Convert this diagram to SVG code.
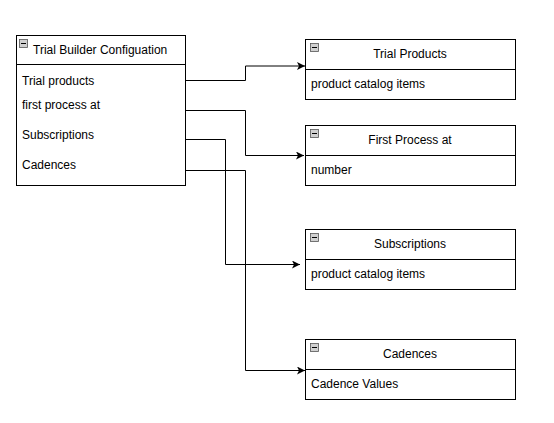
<svg xmlns="http://www.w3.org/2000/svg" width="554" height="423" viewBox="0 0 554 423">
<defs>
<style>
.box{fill:#fff;stroke:#000;stroke-width:1}
.sep{stroke:#000;stroke-width:1}
.t{font-family:"Liberation Sans",Arial,sans-serif;font-size:12px;fill:#000}
.c{text-anchor:middle}
.ico{fill:#d0d0d0;stroke:#555;stroke-width:0.8}
.icoL{stroke:#000;stroke-width:1}
.edge{fill:none;stroke:#000;stroke-width:1}
</style>
<marker id="arr" markerWidth="10" markerHeight="10" refX="8" refY="4" orient="auto" markerUnits="userSpaceOnUse">
<path d="M0,0 L8,4 L0,8 L2,4 Z" fill="#000"/>
</marker>
</defs>
<rect width="554" height="423" fill="#fff"/>
<g id="config">
<rect class="box" x="16.5" y="35.5" width="169" height="150"/>
<line class="sep" x1="16.5" y1="64.5" x2="185.5" y2="64.5"/>
<rect class="ico" x="19.5" y="39.5" width="8" height="8"/>
<line class="icoL" x1="21" y1="43.5" x2="26" y2="43.5"/>
<text class="t" x="33" y="54">Trial Builder Configuation</text>
<text class="t" x="22" y="85">Trial products</text>
<text class="t" x="22" y="109">first process at</text>
<text class="t" x="22" y="139">Subscriptions</text>
<text class="t" x="22" y="169">Cadences</text>
</g>
<g id="trialProducts">
<rect class="box" x="305.5" y="39.5" width="210" height="60"/>
<line class="sep" x1="305.5" y1="69.5" x2="515.5" y2="69.5"/>
<rect class="ico" x="310.5" y="43.5" width="8" height="8"/>
<line class="icoL" x1="312" y1="47.5" x2="317" y2="47.5"/>
<text class="t c" x="410" y="58">Trial Products</text>
<text class="t" x="311" y="88">product catalog items</text>
</g>
<g id="firstProcess">
<rect class="box" x="305.5" y="125.5" width="210" height="60"/>
<line class="sep" x1="305.5" y1="155.5" x2="515.5" y2="155.5"/>
<rect class="ico" x="310.5" y="129.5" width="8" height="8"/>
<line class="icoL" x1="312" y1="133.5" x2="317" y2="133.5"/>
<text class="t c" x="410" y="144">First Process at</text>
<text class="t" x="311" y="174">number</text>
</g>
<g id="subscriptions">
<rect class="box" x="305.5" y="229.5" width="210" height="60"/>
<line class="sep" x1="305.5" y1="259.5" x2="515.5" y2="259.5"/>
<rect class="ico" x="310.5" y="233.5" width="8" height="8"/>
<line class="icoL" x1="312" y1="237.5" x2="317" y2="237.5"/>
<text class="t c" x="410" y="248">Subscriptions</text>
<text class="t" x="311" y="278">product catalog items</text>
</g>
<g id="cadences">
<rect class="box" x="305.5" y="339.5" width="210" height="60"/>
<line class="sep" x1="305.5" y1="369.5" x2="515.5" y2="369.5"/>
<rect class="ico" x="310.5" y="343.5" width="8" height="8"/>
<line class="icoL" x1="312" y1="347.5" x2="317" y2="347.5"/>
<text class="t c" x="410" y="358">Cadences</text>
<text class="t" x="311" y="388">Cadence Values</text>
</g>
<g id="connectors">
<path class="edge" d="M185.5,80.5 H245.5 V66 H305" marker-end="url(#arr)"/>
<path class="edge" d="M185.5,110.5 H245.5 V155.5 H304" marker-end="url(#arr)"/>
<path class="edge" d="M185.5,139.5 H225.5 V264.5 H300" marker-end="url(#arr)"/>
<path class="edge" d="M185.5,170.5 H245.5 V370.5 H305" marker-end="url(#arr)"/>
</g>
</svg>
